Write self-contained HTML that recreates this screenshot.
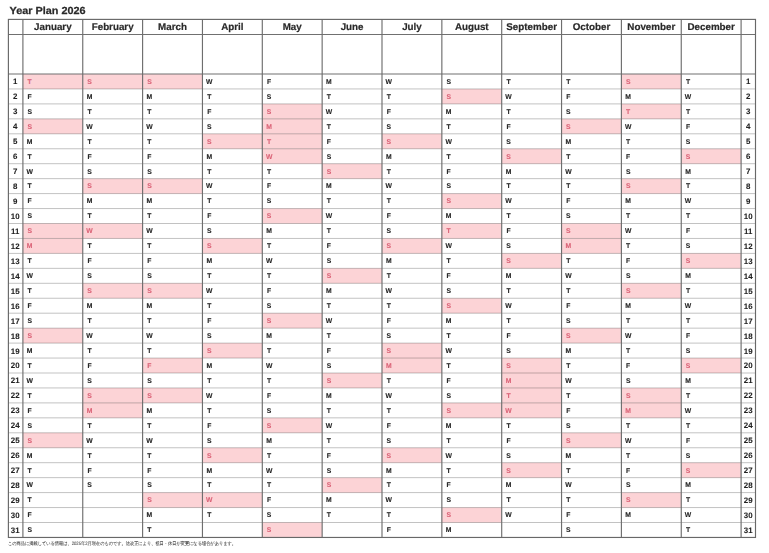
<!DOCTYPE html>
<html><head><meta charset="utf-8"><style>
html,body{margin:0;padding:0;background:#fff;width:769px;height:553px;overflow:hidden}
svg{display:block}
.wrap{filter:blur(0.3px)}
text{text-rendering:geometricPrecision;font-family:"Liberation Sans",sans-serif;font-weight:bold}
.d{font-size:6.8px;text-anchor:middle;stroke-width:0.1px}
.n{font-size:7.9px;text-anchor:middle;fill:#222;stroke:#222;stroke-width:0.08px}
.m{font-size:9.8px;text-anchor:middle;fill:#2a2a2a;stroke:#2a2a2a;stroke-width:0.2px}
.t{font-size:10.3px;fill:#2a2a2a;stroke:#2a2a2a;stroke-width:0.25px}
.f{font-size:4.8px;font-weight:normal;fill:#4a4a4a;stroke:#4a4a4a;stroke-width:0.08px}
</style></head><body>
<div class="wrap"><svg width="769" height="553" viewBox="0 0 769 553">
<rect x="22.90" y="74.00" width="59.850" height="14.950" fill="#fcd3d6"/>
<rect x="22.90" y="118.85" width="59.850" height="14.950" fill="#fcd3d6"/>
<rect x="22.90" y="223.50" width="59.850" height="14.950" fill="#fcd3d6"/>
<rect x="22.90" y="238.45" width="59.850" height="14.950" fill="#fcd3d6"/>
<rect x="22.90" y="328.15" width="59.850" height="14.950" fill="#fcd3d6"/>
<rect x="22.90" y="432.80" width="59.850" height="14.950" fill="#fcd3d6"/>
<rect x="82.75" y="74.00" width="59.850" height="14.950" fill="#fcd3d6"/>
<rect x="82.75" y="178.65" width="59.850" height="14.950" fill="#fcd3d6"/>
<rect x="82.75" y="223.50" width="59.850" height="14.950" fill="#fcd3d6"/>
<rect x="82.75" y="283.30" width="59.850" height="14.950" fill="#fcd3d6"/>
<rect x="82.75" y="387.95" width="59.850" height="14.950" fill="#fcd3d6"/>
<rect x="82.75" y="402.90" width="59.850" height="14.950" fill="#fcd3d6"/>
<rect x="142.60" y="74.00" width="59.850" height="14.950" fill="#fcd3d6"/>
<rect x="142.60" y="178.65" width="59.850" height="14.950" fill="#fcd3d6"/>
<rect x="142.60" y="283.30" width="59.850" height="14.950" fill="#fcd3d6"/>
<rect x="142.60" y="358.05" width="59.850" height="14.950" fill="#fcd3d6"/>
<rect x="142.60" y="387.95" width="59.850" height="14.950" fill="#fcd3d6"/>
<rect x="142.60" y="492.60" width="59.850" height="14.950" fill="#fcd3d6"/>
<rect x="202.45" y="133.80" width="59.850" height="14.950" fill="#fcd3d6"/>
<rect x="202.45" y="238.45" width="59.850" height="14.950" fill="#fcd3d6"/>
<rect x="202.45" y="343.10" width="59.850" height="14.950" fill="#fcd3d6"/>
<rect x="202.45" y="447.75" width="59.850" height="14.950" fill="#fcd3d6"/>
<rect x="202.45" y="492.60" width="59.850" height="14.950" fill="#fcd3d6"/>
<rect x="262.30" y="103.90" width="59.850" height="14.950" fill="#fcd3d6"/>
<rect x="262.30" y="118.85" width="59.850" height="14.950" fill="#fcd3d6"/>
<rect x="262.30" y="133.80" width="59.850" height="14.950" fill="#fcd3d6"/>
<rect x="262.30" y="148.75" width="59.850" height="14.950" fill="#fcd3d6"/>
<rect x="262.30" y="208.55" width="59.850" height="14.950" fill="#fcd3d6"/>
<rect x="262.30" y="313.20" width="59.850" height="14.950" fill="#fcd3d6"/>
<rect x="262.30" y="417.85" width="59.850" height="14.950" fill="#fcd3d6"/>
<rect x="262.30" y="522.50" width="59.850" height="14.950" fill="#fcd3d6"/>
<rect x="322.15" y="163.70" width="59.850" height="14.950" fill="#fcd3d6"/>
<rect x="322.15" y="268.35" width="59.850" height="14.950" fill="#fcd3d6"/>
<rect x="322.15" y="373.00" width="59.850" height="14.950" fill="#fcd3d6"/>
<rect x="322.15" y="477.65" width="59.850" height="14.950" fill="#fcd3d6"/>
<rect x="382.00" y="133.80" width="59.850" height="14.950" fill="#fcd3d6"/>
<rect x="382.00" y="238.45" width="59.850" height="14.950" fill="#fcd3d6"/>
<rect x="382.00" y="343.10" width="59.850" height="14.950" fill="#fcd3d6"/>
<rect x="382.00" y="358.05" width="59.850" height="14.950" fill="#fcd3d6"/>
<rect x="382.00" y="447.75" width="59.850" height="14.950" fill="#fcd3d6"/>
<rect x="441.85" y="88.95" width="59.850" height="14.950" fill="#fcd3d6"/>
<rect x="441.85" y="193.60" width="59.850" height="14.950" fill="#fcd3d6"/>
<rect x="441.85" y="223.50" width="59.850" height="14.950" fill="#fcd3d6"/>
<rect x="441.85" y="298.25" width="59.850" height="14.950" fill="#fcd3d6"/>
<rect x="441.85" y="402.90" width="59.850" height="14.950" fill="#fcd3d6"/>
<rect x="441.85" y="507.55" width="59.850" height="14.950" fill="#fcd3d6"/>
<rect x="501.70" y="148.75" width="59.850" height="14.950" fill="#fcd3d6"/>
<rect x="501.70" y="253.40" width="59.850" height="14.950" fill="#fcd3d6"/>
<rect x="501.70" y="358.05" width="59.850" height="14.950" fill="#fcd3d6"/>
<rect x="501.70" y="373.00" width="59.850" height="14.950" fill="#fcd3d6"/>
<rect x="501.70" y="387.95" width="59.850" height="14.950" fill="#fcd3d6"/>
<rect x="501.70" y="402.90" width="59.850" height="14.950" fill="#fcd3d6"/>
<rect x="501.70" y="462.70" width="59.850" height="14.950" fill="#fcd3d6"/>
<rect x="561.55" y="118.85" width="59.850" height="14.950" fill="#fcd3d6"/>
<rect x="561.55" y="223.50" width="59.850" height="14.950" fill="#fcd3d6"/>
<rect x="561.55" y="238.45" width="59.850" height="14.950" fill="#fcd3d6"/>
<rect x="561.55" y="328.15" width="59.850" height="14.950" fill="#fcd3d6"/>
<rect x="561.55" y="432.80" width="59.850" height="14.950" fill="#fcd3d6"/>
<rect x="621.40" y="74.00" width="59.850" height="14.950" fill="#fcd3d6"/>
<rect x="621.40" y="103.90" width="59.850" height="14.950" fill="#fcd3d6"/>
<rect x="621.40" y="178.65" width="59.850" height="14.950" fill="#fcd3d6"/>
<rect x="621.40" y="283.30" width="59.850" height="14.950" fill="#fcd3d6"/>
<rect x="621.40" y="387.95" width="59.850" height="14.950" fill="#fcd3d6"/>
<rect x="621.40" y="402.90" width="59.850" height="14.950" fill="#fcd3d6"/>
<rect x="621.40" y="492.60" width="59.850" height="14.950" fill="#fcd3d6"/>
<rect x="681.25" y="148.75" width="59.850" height="14.950" fill="#fcd3d6"/>
<rect x="681.25" y="253.40" width="59.850" height="14.950" fill="#fcd3d6"/>
<rect x="681.25" y="358.05" width="59.850" height="14.950" fill="#fcd3d6"/>
<rect x="681.25" y="462.70" width="59.850" height="14.950" fill="#fcd3d6"/>
<line x1="8.40" y1="88.95" x2="755.50" y2="88.95" stroke="#000" stroke-opacity="0.27" stroke-width="0.9"/>
<line x1="8.40" y1="103.90" x2="755.50" y2="103.90" stroke="#000" stroke-opacity="0.27" stroke-width="0.9"/>
<line x1="8.40" y1="118.85" x2="755.50" y2="118.85" stroke="#000" stroke-opacity="0.27" stroke-width="0.9"/>
<line x1="8.40" y1="133.80" x2="755.50" y2="133.80" stroke="#000" stroke-opacity="0.27" stroke-width="0.9"/>
<line x1="8.40" y1="148.75" x2="755.50" y2="148.75" stroke="#000" stroke-opacity="0.27" stroke-width="0.9"/>
<line x1="8.40" y1="163.70" x2="755.50" y2="163.70" stroke="#000" stroke-opacity="0.27" stroke-width="0.9"/>
<line x1="8.40" y1="178.65" x2="755.50" y2="178.65" stroke="#000" stroke-opacity="0.27" stroke-width="0.9"/>
<line x1="8.40" y1="193.60" x2="755.50" y2="193.60" stroke="#000" stroke-opacity="0.27" stroke-width="0.9"/>
<line x1="8.40" y1="208.55" x2="755.50" y2="208.55" stroke="#000" stroke-opacity="0.27" stroke-width="0.9"/>
<line x1="8.40" y1="223.50" x2="755.50" y2="223.50" stroke="#000" stroke-opacity="0.27" stroke-width="0.9"/>
<line x1="8.40" y1="238.45" x2="755.50" y2="238.45" stroke="#000" stroke-opacity="0.27" stroke-width="0.9"/>
<line x1="8.40" y1="253.40" x2="755.50" y2="253.40" stroke="#000" stroke-opacity="0.27" stroke-width="0.9"/>
<line x1="8.40" y1="268.35" x2="755.50" y2="268.35" stroke="#000" stroke-opacity="0.27" stroke-width="0.9"/>
<line x1="8.40" y1="283.30" x2="755.50" y2="283.30" stroke="#000" stroke-opacity="0.27" stroke-width="0.9"/>
<line x1="8.40" y1="298.25" x2="755.50" y2="298.25" stroke="#000" stroke-opacity="0.27" stroke-width="0.9"/>
<line x1="8.40" y1="313.20" x2="755.50" y2="313.20" stroke="#000" stroke-opacity="0.27" stroke-width="0.9"/>
<line x1="8.40" y1="328.15" x2="755.50" y2="328.15" stroke="#000" stroke-opacity="0.27" stroke-width="0.9"/>
<line x1="8.40" y1="343.10" x2="755.50" y2="343.10" stroke="#000" stroke-opacity="0.27" stroke-width="0.9"/>
<line x1="8.40" y1="358.05" x2="755.50" y2="358.05" stroke="#000" stroke-opacity="0.27" stroke-width="0.9"/>
<line x1="8.40" y1="373.00" x2="755.50" y2="373.00" stroke="#000" stroke-opacity="0.27" stroke-width="0.9"/>
<line x1="8.40" y1="387.95" x2="755.50" y2="387.95" stroke="#000" stroke-opacity="0.27" stroke-width="0.9"/>
<line x1="8.40" y1="402.90" x2="755.50" y2="402.90" stroke="#000" stroke-opacity="0.27" stroke-width="0.9"/>
<line x1="8.40" y1="417.85" x2="755.50" y2="417.85" stroke="#000" stroke-opacity="0.27" stroke-width="0.9"/>
<line x1="8.40" y1="432.80" x2="755.50" y2="432.80" stroke="#000" stroke-opacity="0.27" stroke-width="0.9"/>
<line x1="8.40" y1="447.75" x2="755.50" y2="447.75" stroke="#000" stroke-opacity="0.27" stroke-width="0.9"/>
<line x1="8.40" y1="462.70" x2="755.50" y2="462.70" stroke="#000" stroke-opacity="0.27" stroke-width="0.9"/>
<line x1="8.40" y1="477.65" x2="755.50" y2="477.65" stroke="#000" stroke-opacity="0.27" stroke-width="0.9"/>
<line x1="8.40" y1="492.60" x2="755.50" y2="492.60" stroke="#000" stroke-opacity="0.27" stroke-width="0.9"/>
<line x1="8.40" y1="507.55" x2="755.50" y2="507.55" stroke="#000" stroke-opacity="0.27" stroke-width="0.9"/>
<line x1="8.40" y1="522.50" x2="755.50" y2="522.50" stroke="#000" stroke-opacity="0.27" stroke-width="0.9"/>
<line x1="8.40" y1="34.50" x2="755.50" y2="34.50" stroke="#707070" stroke-width="1.1"/>
<line x1="8.40" y1="74.00" x2="755.50" y2="74.00" stroke="#707070" stroke-width="1.1"/>
<line x1="22.90" y1="19.40" x2="22.90" y2="537.45" stroke="#6e6e6e" stroke-width="1.15"/>
<line x1="82.75" y1="19.40" x2="82.75" y2="537.45" stroke="#6e6e6e" stroke-width="1.15"/>
<line x1="142.60" y1="19.40" x2="142.60" y2="537.45" stroke="#6e6e6e" stroke-width="1.15"/>
<line x1="202.45" y1="19.40" x2="202.45" y2="537.45" stroke="#6e6e6e" stroke-width="1.15"/>
<line x1="262.30" y1="19.40" x2="262.30" y2="537.45" stroke="#6e6e6e" stroke-width="1.15"/>
<line x1="322.15" y1="19.40" x2="322.15" y2="537.45" stroke="#6e6e6e" stroke-width="1.15"/>
<line x1="382.00" y1="19.40" x2="382.00" y2="537.45" stroke="#6e6e6e" stroke-width="1.15"/>
<line x1="441.85" y1="19.40" x2="441.85" y2="537.45" stroke="#6e6e6e" stroke-width="1.15"/>
<line x1="501.70" y1="19.40" x2="501.70" y2="537.45" stroke="#6e6e6e" stroke-width="1.15"/>
<line x1="561.55" y1="19.40" x2="561.55" y2="537.45" stroke="#6e6e6e" stroke-width="1.15"/>
<line x1="621.40" y1="19.40" x2="621.40" y2="537.45" stroke="#6e6e6e" stroke-width="1.15"/>
<line x1="681.25" y1="19.40" x2="681.25" y2="537.45" stroke="#6e6e6e" stroke-width="1.15"/>
<line x1="741.10" y1="19.40" x2="741.10" y2="537.45" stroke="#6e6e6e" stroke-width="1.15"/>
<rect x="8.40" y="19.40" width="747.10" height="518.05" fill="none" stroke="#686868" stroke-width="1.15"/>
<text class="d" transform="translate(29.70 83.80) scale(1.0 1)" fill="#da6276" stroke="#da6276">T</text>
<text class="d" transform="translate(29.70 98.75) scale(1.0 1)" fill="#222" stroke="#222">F</text>
<text class="d" transform="translate(29.70 113.70) scale(1.0 1)" fill="#222" stroke="#222">S</text>
<text class="d" transform="translate(29.70 128.65) scale(1.0 1)" fill="#da6276" stroke="#da6276">S</text>
<text class="d" transform="translate(29.70 143.60) scale(1.0 1)" fill="#222" stroke="#222">M</text>
<text class="d" transform="translate(29.70 158.55) scale(1.0 1)" fill="#222" stroke="#222">T</text>
<text class="d" transform="translate(29.70 173.50) scale(1.0 1)" fill="#222" stroke="#222">W</text>
<text class="d" transform="translate(29.70 188.45) scale(1.0 1)" fill="#222" stroke="#222">T</text>
<text class="d" transform="translate(29.70 203.40) scale(1.0 1)" fill="#222" stroke="#222">F</text>
<text class="d" transform="translate(29.70 218.35) scale(1.0 1)" fill="#222" stroke="#222">S</text>
<text class="d" transform="translate(29.70 233.30) scale(1.0 1)" fill="#da6276" stroke="#da6276">S</text>
<text class="d" transform="translate(29.70 248.25) scale(1.0 1)" fill="#da6276" stroke="#da6276">M</text>
<text class="d" transform="translate(29.70 263.20) scale(1.0 1)" fill="#222" stroke="#222">T</text>
<text class="d" transform="translate(29.70 278.15) scale(1.0 1)" fill="#222" stroke="#222">W</text>
<text class="d" transform="translate(29.70 293.10) scale(1.0 1)" fill="#222" stroke="#222">T</text>
<text class="d" transform="translate(29.70 308.05) scale(1.0 1)" fill="#222" stroke="#222">F</text>
<text class="d" transform="translate(29.70 323.00) scale(1.0 1)" fill="#222" stroke="#222">S</text>
<text class="d" transform="translate(29.70 337.95) scale(1.0 1)" fill="#da6276" stroke="#da6276">S</text>
<text class="d" transform="translate(29.70 352.90) scale(1.0 1)" fill="#222" stroke="#222">M</text>
<text class="d" transform="translate(29.70 367.85) scale(1.0 1)" fill="#222" stroke="#222">T</text>
<text class="d" transform="translate(29.70 382.80) scale(1.0 1)" fill="#222" stroke="#222">W</text>
<text class="d" transform="translate(29.70 397.75) scale(1.0 1)" fill="#222" stroke="#222">T</text>
<text class="d" transform="translate(29.70 412.70) scale(1.0 1)" fill="#222" stroke="#222">F</text>
<text class="d" transform="translate(29.70 427.65) scale(1.0 1)" fill="#222" stroke="#222">S</text>
<text class="d" transform="translate(29.70 442.60) scale(1.0 1)" fill="#da6276" stroke="#da6276">S</text>
<text class="d" transform="translate(29.70 457.55) scale(1.0 1)" fill="#222" stroke="#222">M</text>
<text class="d" transform="translate(29.70 472.50) scale(1.0 1)" fill="#222" stroke="#222">T</text>
<text class="d" transform="translate(29.70 487.45) scale(1.0 1)" fill="#222" stroke="#222">W</text>
<text class="d" transform="translate(29.70 502.40) scale(1.0 1)" fill="#222" stroke="#222">T</text>
<text class="d" transform="translate(29.70 517.35) scale(1.0 1)" fill="#222" stroke="#222">F</text>
<text class="d" transform="translate(29.70 532.30) scale(1.0 1)" fill="#222" stroke="#222">S</text>
<text class="d" transform="translate(89.55 83.80) scale(1.0 1)" fill="#da6276" stroke="#da6276">S</text>
<text class="d" transform="translate(89.55 98.75) scale(1.0 1)" fill="#222" stroke="#222">M</text>
<text class="d" transform="translate(89.55 113.70) scale(1.0 1)" fill="#222" stroke="#222">T</text>
<text class="d" transform="translate(89.55 128.65) scale(1.0 1)" fill="#222" stroke="#222">W</text>
<text class="d" transform="translate(89.55 143.60) scale(1.0 1)" fill="#222" stroke="#222">T</text>
<text class="d" transform="translate(89.55 158.55) scale(1.0 1)" fill="#222" stroke="#222">F</text>
<text class="d" transform="translate(89.55 173.50) scale(1.0 1)" fill="#222" stroke="#222">S</text>
<text class="d" transform="translate(89.55 188.45) scale(1.0 1)" fill="#da6276" stroke="#da6276">S</text>
<text class="d" transform="translate(89.55 203.40) scale(1.0 1)" fill="#222" stroke="#222">M</text>
<text class="d" transform="translate(89.55 218.35) scale(1.0 1)" fill="#222" stroke="#222">T</text>
<text class="d" transform="translate(89.55 233.30) scale(1.0 1)" fill="#da6276" stroke="#da6276">W</text>
<text class="d" transform="translate(89.55 248.25) scale(1.0 1)" fill="#222" stroke="#222">T</text>
<text class="d" transform="translate(89.55 263.20) scale(1.0 1)" fill="#222" stroke="#222">F</text>
<text class="d" transform="translate(89.55 278.15) scale(1.0 1)" fill="#222" stroke="#222">S</text>
<text class="d" transform="translate(89.55 293.10) scale(1.0 1)" fill="#da6276" stroke="#da6276">S</text>
<text class="d" transform="translate(89.55 308.05) scale(1.0 1)" fill="#222" stroke="#222">M</text>
<text class="d" transform="translate(89.55 323.00) scale(1.0 1)" fill="#222" stroke="#222">T</text>
<text class="d" transform="translate(89.55 337.95) scale(1.0 1)" fill="#222" stroke="#222">W</text>
<text class="d" transform="translate(89.55 352.90) scale(1.0 1)" fill="#222" stroke="#222">T</text>
<text class="d" transform="translate(89.55 367.85) scale(1.0 1)" fill="#222" stroke="#222">F</text>
<text class="d" transform="translate(89.55 382.80) scale(1.0 1)" fill="#222" stroke="#222">S</text>
<text class="d" transform="translate(89.55 397.75) scale(1.0 1)" fill="#da6276" stroke="#da6276">S</text>
<text class="d" transform="translate(89.55 412.70) scale(1.0 1)" fill="#da6276" stroke="#da6276">M</text>
<text class="d" transform="translate(89.55 427.65) scale(1.0 1)" fill="#222" stroke="#222">T</text>
<text class="d" transform="translate(89.55 442.60) scale(1.0 1)" fill="#222" stroke="#222">W</text>
<text class="d" transform="translate(89.55 457.55) scale(1.0 1)" fill="#222" stroke="#222">T</text>
<text class="d" transform="translate(89.55 472.50) scale(1.0 1)" fill="#222" stroke="#222">F</text>
<text class="d" transform="translate(89.55 487.45) scale(1.0 1)" fill="#222" stroke="#222">S</text>
<text class="d" transform="translate(149.40 83.80) scale(1.0 1)" fill="#da6276" stroke="#da6276">S</text>
<text class="d" transform="translate(149.40 98.75) scale(1.0 1)" fill="#222" stroke="#222">M</text>
<text class="d" transform="translate(149.40 113.70) scale(1.0 1)" fill="#222" stroke="#222">T</text>
<text class="d" transform="translate(149.40 128.65) scale(1.0 1)" fill="#222" stroke="#222">W</text>
<text class="d" transform="translate(149.40 143.60) scale(1.0 1)" fill="#222" stroke="#222">T</text>
<text class="d" transform="translate(149.40 158.55) scale(1.0 1)" fill="#222" stroke="#222">F</text>
<text class="d" transform="translate(149.40 173.50) scale(1.0 1)" fill="#222" stroke="#222">S</text>
<text class="d" transform="translate(149.40 188.45) scale(1.0 1)" fill="#da6276" stroke="#da6276">S</text>
<text class="d" transform="translate(149.40 203.40) scale(1.0 1)" fill="#222" stroke="#222">M</text>
<text class="d" transform="translate(149.40 218.35) scale(1.0 1)" fill="#222" stroke="#222">T</text>
<text class="d" transform="translate(149.40 233.30) scale(1.0 1)" fill="#222" stroke="#222">W</text>
<text class="d" transform="translate(149.40 248.25) scale(1.0 1)" fill="#222" stroke="#222">T</text>
<text class="d" transform="translate(149.40 263.20) scale(1.0 1)" fill="#222" stroke="#222">F</text>
<text class="d" transform="translate(149.40 278.15) scale(1.0 1)" fill="#222" stroke="#222">S</text>
<text class="d" transform="translate(149.40 293.10) scale(1.0 1)" fill="#da6276" stroke="#da6276">S</text>
<text class="d" transform="translate(149.40 308.05) scale(1.0 1)" fill="#222" stroke="#222">M</text>
<text class="d" transform="translate(149.40 323.00) scale(1.0 1)" fill="#222" stroke="#222">T</text>
<text class="d" transform="translate(149.40 337.95) scale(1.0 1)" fill="#222" stroke="#222">W</text>
<text class="d" transform="translate(149.40 352.90) scale(1.0 1)" fill="#222" stroke="#222">T</text>
<text class="d" transform="translate(149.40 367.85) scale(1.0 1)" fill="#da6276" stroke="#da6276">F</text>
<text class="d" transform="translate(149.40 382.80) scale(1.0 1)" fill="#222" stroke="#222">S</text>
<text class="d" transform="translate(149.40 397.75) scale(1.0 1)" fill="#da6276" stroke="#da6276">S</text>
<text class="d" transform="translate(149.40 412.70) scale(1.0 1)" fill="#222" stroke="#222">M</text>
<text class="d" transform="translate(149.40 427.65) scale(1.0 1)" fill="#222" stroke="#222">T</text>
<text class="d" transform="translate(149.40 442.60) scale(1.0 1)" fill="#222" stroke="#222">W</text>
<text class="d" transform="translate(149.40 457.55) scale(1.0 1)" fill="#222" stroke="#222">T</text>
<text class="d" transform="translate(149.40 472.50) scale(1.0 1)" fill="#222" stroke="#222">F</text>
<text class="d" transform="translate(149.40 487.45) scale(1.0 1)" fill="#222" stroke="#222">S</text>
<text class="d" transform="translate(149.40 502.40) scale(1.0 1)" fill="#da6276" stroke="#da6276">S</text>
<text class="d" transform="translate(149.40 517.35) scale(1.0 1)" fill="#222" stroke="#222">M</text>
<text class="d" transform="translate(149.40 532.30) scale(1.0 1)" fill="#222" stroke="#222">T</text>
<text class="d" transform="translate(209.25 83.80) scale(1.0 1)" fill="#222" stroke="#222">W</text>
<text class="d" transform="translate(209.25 98.75) scale(1.0 1)" fill="#222" stroke="#222">T</text>
<text class="d" transform="translate(209.25 113.70) scale(1.0 1)" fill="#222" stroke="#222">F</text>
<text class="d" transform="translate(209.25 128.65) scale(1.0 1)" fill="#222" stroke="#222">S</text>
<text class="d" transform="translate(209.25 143.60) scale(1.0 1)" fill="#da6276" stroke="#da6276">S</text>
<text class="d" transform="translate(209.25 158.55) scale(1.0 1)" fill="#222" stroke="#222">M</text>
<text class="d" transform="translate(209.25 173.50) scale(1.0 1)" fill="#222" stroke="#222">T</text>
<text class="d" transform="translate(209.25 188.45) scale(1.0 1)" fill="#222" stroke="#222">W</text>
<text class="d" transform="translate(209.25 203.40) scale(1.0 1)" fill="#222" stroke="#222">T</text>
<text class="d" transform="translate(209.25 218.35) scale(1.0 1)" fill="#222" stroke="#222">F</text>
<text class="d" transform="translate(209.25 233.30) scale(1.0 1)" fill="#222" stroke="#222">S</text>
<text class="d" transform="translate(209.25 248.25) scale(1.0 1)" fill="#da6276" stroke="#da6276">S</text>
<text class="d" transform="translate(209.25 263.20) scale(1.0 1)" fill="#222" stroke="#222">M</text>
<text class="d" transform="translate(209.25 278.15) scale(1.0 1)" fill="#222" stroke="#222">T</text>
<text class="d" transform="translate(209.25 293.10) scale(1.0 1)" fill="#222" stroke="#222">W</text>
<text class="d" transform="translate(209.25 308.05) scale(1.0 1)" fill="#222" stroke="#222">T</text>
<text class="d" transform="translate(209.25 323.00) scale(1.0 1)" fill="#222" stroke="#222">F</text>
<text class="d" transform="translate(209.25 337.95) scale(1.0 1)" fill="#222" stroke="#222">S</text>
<text class="d" transform="translate(209.25 352.90) scale(1.0 1)" fill="#da6276" stroke="#da6276">S</text>
<text class="d" transform="translate(209.25 367.85) scale(1.0 1)" fill="#222" stroke="#222">M</text>
<text class="d" transform="translate(209.25 382.80) scale(1.0 1)" fill="#222" stroke="#222">T</text>
<text class="d" transform="translate(209.25 397.75) scale(1.0 1)" fill="#222" stroke="#222">W</text>
<text class="d" transform="translate(209.25 412.70) scale(1.0 1)" fill="#222" stroke="#222">T</text>
<text class="d" transform="translate(209.25 427.65) scale(1.0 1)" fill="#222" stroke="#222">F</text>
<text class="d" transform="translate(209.25 442.60) scale(1.0 1)" fill="#222" stroke="#222">S</text>
<text class="d" transform="translate(209.25 457.55) scale(1.0 1)" fill="#da6276" stroke="#da6276">S</text>
<text class="d" transform="translate(209.25 472.50) scale(1.0 1)" fill="#222" stroke="#222">M</text>
<text class="d" transform="translate(209.25 487.45) scale(1.0 1)" fill="#222" stroke="#222">T</text>
<text class="d" transform="translate(209.25 502.40) scale(1.0 1)" fill="#da6276" stroke="#da6276">W</text>
<text class="d" transform="translate(209.25 517.35) scale(1.0 1)" fill="#222" stroke="#222">T</text>
<text class="d" transform="translate(269.10 83.80) scale(1.0 1)" fill="#222" stroke="#222">F</text>
<text class="d" transform="translate(269.10 98.75) scale(1.0 1)" fill="#222" stroke="#222">S</text>
<text class="d" transform="translate(269.10 113.70) scale(1.0 1)" fill="#da6276" stroke="#da6276">S</text>
<text class="d" transform="translate(269.10 128.65) scale(1.0 1)" fill="#da6276" stroke="#da6276">M</text>
<text class="d" transform="translate(269.10 143.60) scale(1.0 1)" fill="#da6276" stroke="#da6276">T</text>
<text class="d" transform="translate(269.10 158.55) scale(1.0 1)" fill="#da6276" stroke="#da6276">W</text>
<text class="d" transform="translate(269.10 173.50) scale(1.0 1)" fill="#222" stroke="#222">T</text>
<text class="d" transform="translate(269.10 188.45) scale(1.0 1)" fill="#222" stroke="#222">F</text>
<text class="d" transform="translate(269.10 203.40) scale(1.0 1)" fill="#222" stroke="#222">S</text>
<text class="d" transform="translate(269.10 218.35) scale(1.0 1)" fill="#da6276" stroke="#da6276">S</text>
<text class="d" transform="translate(269.10 233.30) scale(1.0 1)" fill="#222" stroke="#222">M</text>
<text class="d" transform="translate(269.10 248.25) scale(1.0 1)" fill="#222" stroke="#222">T</text>
<text class="d" transform="translate(269.10 263.20) scale(1.0 1)" fill="#222" stroke="#222">W</text>
<text class="d" transform="translate(269.10 278.15) scale(1.0 1)" fill="#222" stroke="#222">T</text>
<text class="d" transform="translate(269.10 293.10) scale(1.0 1)" fill="#222" stroke="#222">F</text>
<text class="d" transform="translate(269.10 308.05) scale(1.0 1)" fill="#222" stroke="#222">S</text>
<text class="d" transform="translate(269.10 323.00) scale(1.0 1)" fill="#da6276" stroke="#da6276">S</text>
<text class="d" transform="translate(269.10 337.95) scale(1.0 1)" fill="#222" stroke="#222">M</text>
<text class="d" transform="translate(269.10 352.90) scale(1.0 1)" fill="#222" stroke="#222">T</text>
<text class="d" transform="translate(269.10 367.85) scale(1.0 1)" fill="#222" stroke="#222">W</text>
<text class="d" transform="translate(269.10 382.80) scale(1.0 1)" fill="#222" stroke="#222">T</text>
<text class="d" transform="translate(269.10 397.75) scale(1.0 1)" fill="#222" stroke="#222">F</text>
<text class="d" transform="translate(269.10 412.70) scale(1.0 1)" fill="#222" stroke="#222">S</text>
<text class="d" transform="translate(269.10 427.65) scale(1.0 1)" fill="#da6276" stroke="#da6276">S</text>
<text class="d" transform="translate(269.10 442.60) scale(1.0 1)" fill="#222" stroke="#222">M</text>
<text class="d" transform="translate(269.10 457.55) scale(1.0 1)" fill="#222" stroke="#222">T</text>
<text class="d" transform="translate(269.10 472.50) scale(1.0 1)" fill="#222" stroke="#222">W</text>
<text class="d" transform="translate(269.10 487.45) scale(1.0 1)" fill="#222" stroke="#222">T</text>
<text class="d" transform="translate(269.10 502.40) scale(1.0 1)" fill="#222" stroke="#222">F</text>
<text class="d" transform="translate(269.10 517.35) scale(1.0 1)" fill="#222" stroke="#222">S</text>
<text class="d" transform="translate(269.10 532.30) scale(1.0 1)" fill="#da6276" stroke="#da6276">S</text>
<text class="d" transform="translate(328.95 83.80) scale(1.0 1)" fill="#222" stroke="#222">M</text>
<text class="d" transform="translate(328.95 98.75) scale(1.0 1)" fill="#222" stroke="#222">T</text>
<text class="d" transform="translate(328.95 113.70) scale(1.0 1)" fill="#222" stroke="#222">W</text>
<text class="d" transform="translate(328.95 128.65) scale(1.0 1)" fill="#222" stroke="#222">T</text>
<text class="d" transform="translate(328.95 143.60) scale(1.0 1)" fill="#222" stroke="#222">F</text>
<text class="d" transform="translate(328.95 158.55) scale(1.0 1)" fill="#222" stroke="#222">S</text>
<text class="d" transform="translate(328.95 173.50) scale(1.0 1)" fill="#da6276" stroke="#da6276">S</text>
<text class="d" transform="translate(328.95 188.45) scale(1.0 1)" fill="#222" stroke="#222">M</text>
<text class="d" transform="translate(328.95 203.40) scale(1.0 1)" fill="#222" stroke="#222">T</text>
<text class="d" transform="translate(328.95 218.35) scale(1.0 1)" fill="#222" stroke="#222">W</text>
<text class="d" transform="translate(328.95 233.30) scale(1.0 1)" fill="#222" stroke="#222">T</text>
<text class="d" transform="translate(328.95 248.25) scale(1.0 1)" fill="#222" stroke="#222">F</text>
<text class="d" transform="translate(328.95 263.20) scale(1.0 1)" fill="#222" stroke="#222">S</text>
<text class="d" transform="translate(328.95 278.15) scale(1.0 1)" fill="#da6276" stroke="#da6276">S</text>
<text class="d" transform="translate(328.95 293.10) scale(1.0 1)" fill="#222" stroke="#222">M</text>
<text class="d" transform="translate(328.95 308.05) scale(1.0 1)" fill="#222" stroke="#222">T</text>
<text class="d" transform="translate(328.95 323.00) scale(1.0 1)" fill="#222" stroke="#222">W</text>
<text class="d" transform="translate(328.95 337.95) scale(1.0 1)" fill="#222" stroke="#222">T</text>
<text class="d" transform="translate(328.95 352.90) scale(1.0 1)" fill="#222" stroke="#222">F</text>
<text class="d" transform="translate(328.95 367.85) scale(1.0 1)" fill="#222" stroke="#222">S</text>
<text class="d" transform="translate(328.95 382.80) scale(1.0 1)" fill="#da6276" stroke="#da6276">S</text>
<text class="d" transform="translate(328.95 397.75) scale(1.0 1)" fill="#222" stroke="#222">M</text>
<text class="d" transform="translate(328.95 412.70) scale(1.0 1)" fill="#222" stroke="#222">T</text>
<text class="d" transform="translate(328.95 427.65) scale(1.0 1)" fill="#222" stroke="#222">W</text>
<text class="d" transform="translate(328.95 442.60) scale(1.0 1)" fill="#222" stroke="#222">T</text>
<text class="d" transform="translate(328.95 457.55) scale(1.0 1)" fill="#222" stroke="#222">F</text>
<text class="d" transform="translate(328.95 472.50) scale(1.0 1)" fill="#222" stroke="#222">S</text>
<text class="d" transform="translate(328.95 487.45) scale(1.0 1)" fill="#da6276" stroke="#da6276">S</text>
<text class="d" transform="translate(328.95 502.40) scale(1.0 1)" fill="#222" stroke="#222">M</text>
<text class="d" transform="translate(328.95 517.35) scale(1.0 1)" fill="#222" stroke="#222">T</text>
<text class="d" transform="translate(388.80 83.80) scale(1.0 1)" fill="#222" stroke="#222">W</text>
<text class="d" transform="translate(388.80 98.75) scale(1.0 1)" fill="#222" stroke="#222">T</text>
<text class="d" transform="translate(388.80 113.70) scale(1.0 1)" fill="#222" stroke="#222">F</text>
<text class="d" transform="translate(388.80 128.65) scale(1.0 1)" fill="#222" stroke="#222">S</text>
<text class="d" transform="translate(388.80 143.60) scale(1.0 1)" fill="#da6276" stroke="#da6276">S</text>
<text class="d" transform="translate(388.80 158.55) scale(1.0 1)" fill="#222" stroke="#222">M</text>
<text class="d" transform="translate(388.80 173.50) scale(1.0 1)" fill="#222" stroke="#222">T</text>
<text class="d" transform="translate(388.80 188.45) scale(1.0 1)" fill="#222" stroke="#222">W</text>
<text class="d" transform="translate(388.80 203.40) scale(1.0 1)" fill="#222" stroke="#222">T</text>
<text class="d" transform="translate(388.80 218.35) scale(1.0 1)" fill="#222" stroke="#222">F</text>
<text class="d" transform="translate(388.80 233.30) scale(1.0 1)" fill="#222" stroke="#222">S</text>
<text class="d" transform="translate(388.80 248.25) scale(1.0 1)" fill="#da6276" stroke="#da6276">S</text>
<text class="d" transform="translate(388.80 263.20) scale(1.0 1)" fill="#222" stroke="#222">M</text>
<text class="d" transform="translate(388.80 278.15) scale(1.0 1)" fill="#222" stroke="#222">T</text>
<text class="d" transform="translate(388.80 293.10) scale(1.0 1)" fill="#222" stroke="#222">W</text>
<text class="d" transform="translate(388.80 308.05) scale(1.0 1)" fill="#222" stroke="#222">T</text>
<text class="d" transform="translate(388.80 323.00) scale(1.0 1)" fill="#222" stroke="#222">F</text>
<text class="d" transform="translate(388.80 337.95) scale(1.0 1)" fill="#222" stroke="#222">S</text>
<text class="d" transform="translate(388.80 352.90) scale(1.0 1)" fill="#da6276" stroke="#da6276">S</text>
<text class="d" transform="translate(388.80 367.85) scale(1.0 1)" fill="#da6276" stroke="#da6276">M</text>
<text class="d" transform="translate(388.80 382.80) scale(1.0 1)" fill="#222" stroke="#222">T</text>
<text class="d" transform="translate(388.80 397.75) scale(1.0 1)" fill="#222" stroke="#222">W</text>
<text class="d" transform="translate(388.80 412.70) scale(1.0 1)" fill="#222" stroke="#222">T</text>
<text class="d" transform="translate(388.80 427.65) scale(1.0 1)" fill="#222" stroke="#222">F</text>
<text class="d" transform="translate(388.80 442.60) scale(1.0 1)" fill="#222" stroke="#222">S</text>
<text class="d" transform="translate(388.80 457.55) scale(1.0 1)" fill="#da6276" stroke="#da6276">S</text>
<text class="d" transform="translate(388.80 472.50) scale(1.0 1)" fill="#222" stroke="#222">M</text>
<text class="d" transform="translate(388.80 487.45) scale(1.0 1)" fill="#222" stroke="#222">T</text>
<text class="d" transform="translate(388.80 502.40) scale(1.0 1)" fill="#222" stroke="#222">W</text>
<text class="d" transform="translate(388.80 517.35) scale(1.0 1)" fill="#222" stroke="#222">T</text>
<text class="d" transform="translate(388.80 532.30) scale(1.0 1)" fill="#222" stroke="#222">F</text>
<text class="d" transform="translate(448.65 83.80) scale(1.0 1)" fill="#222" stroke="#222">S</text>
<text class="d" transform="translate(448.65 98.75) scale(1.0 1)" fill="#da6276" stroke="#da6276">S</text>
<text class="d" transform="translate(448.65 113.70) scale(1.0 1)" fill="#222" stroke="#222">M</text>
<text class="d" transform="translate(448.65 128.65) scale(1.0 1)" fill="#222" stroke="#222">T</text>
<text class="d" transform="translate(448.65 143.60) scale(1.0 1)" fill="#222" stroke="#222">W</text>
<text class="d" transform="translate(448.65 158.55) scale(1.0 1)" fill="#222" stroke="#222">T</text>
<text class="d" transform="translate(448.65 173.50) scale(1.0 1)" fill="#222" stroke="#222">F</text>
<text class="d" transform="translate(448.65 188.45) scale(1.0 1)" fill="#222" stroke="#222">S</text>
<text class="d" transform="translate(448.65 203.40) scale(1.0 1)" fill="#da6276" stroke="#da6276">S</text>
<text class="d" transform="translate(448.65 218.35) scale(1.0 1)" fill="#222" stroke="#222">M</text>
<text class="d" transform="translate(448.65 233.30) scale(1.0 1)" fill="#da6276" stroke="#da6276">T</text>
<text class="d" transform="translate(448.65 248.25) scale(1.0 1)" fill="#222" stroke="#222">W</text>
<text class="d" transform="translate(448.65 263.20) scale(1.0 1)" fill="#222" stroke="#222">T</text>
<text class="d" transform="translate(448.65 278.15) scale(1.0 1)" fill="#222" stroke="#222">F</text>
<text class="d" transform="translate(448.65 293.10) scale(1.0 1)" fill="#222" stroke="#222">S</text>
<text class="d" transform="translate(448.65 308.05) scale(1.0 1)" fill="#da6276" stroke="#da6276">S</text>
<text class="d" transform="translate(448.65 323.00) scale(1.0 1)" fill="#222" stroke="#222">M</text>
<text class="d" transform="translate(448.65 337.95) scale(1.0 1)" fill="#222" stroke="#222">T</text>
<text class="d" transform="translate(448.65 352.90) scale(1.0 1)" fill="#222" stroke="#222">W</text>
<text class="d" transform="translate(448.65 367.85) scale(1.0 1)" fill="#222" stroke="#222">T</text>
<text class="d" transform="translate(448.65 382.80) scale(1.0 1)" fill="#222" stroke="#222">F</text>
<text class="d" transform="translate(448.65 397.75) scale(1.0 1)" fill="#222" stroke="#222">S</text>
<text class="d" transform="translate(448.65 412.70) scale(1.0 1)" fill="#da6276" stroke="#da6276">S</text>
<text class="d" transform="translate(448.65 427.65) scale(1.0 1)" fill="#222" stroke="#222">M</text>
<text class="d" transform="translate(448.65 442.60) scale(1.0 1)" fill="#222" stroke="#222">T</text>
<text class="d" transform="translate(448.65 457.55) scale(1.0 1)" fill="#222" stroke="#222">W</text>
<text class="d" transform="translate(448.65 472.50) scale(1.0 1)" fill="#222" stroke="#222">T</text>
<text class="d" transform="translate(448.65 487.45) scale(1.0 1)" fill="#222" stroke="#222">F</text>
<text class="d" transform="translate(448.65 502.40) scale(1.0 1)" fill="#222" stroke="#222">S</text>
<text class="d" transform="translate(448.65 517.35) scale(1.0 1)" fill="#da6276" stroke="#da6276">S</text>
<text class="d" transform="translate(448.65 532.30) scale(1.0 1)" fill="#222" stroke="#222">M</text>
<text class="d" transform="translate(508.50 83.80) scale(1.0 1)" fill="#222" stroke="#222">T</text>
<text class="d" transform="translate(508.50 98.75) scale(1.0 1)" fill="#222" stroke="#222">W</text>
<text class="d" transform="translate(508.50 113.70) scale(1.0 1)" fill="#222" stroke="#222">T</text>
<text class="d" transform="translate(508.50 128.65) scale(1.0 1)" fill="#222" stroke="#222">F</text>
<text class="d" transform="translate(508.50 143.60) scale(1.0 1)" fill="#222" stroke="#222">S</text>
<text class="d" transform="translate(508.50 158.55) scale(1.0 1)" fill="#da6276" stroke="#da6276">S</text>
<text class="d" transform="translate(508.50 173.50) scale(1.0 1)" fill="#222" stroke="#222">M</text>
<text class="d" transform="translate(508.50 188.45) scale(1.0 1)" fill="#222" stroke="#222">T</text>
<text class="d" transform="translate(508.50 203.40) scale(1.0 1)" fill="#222" stroke="#222">W</text>
<text class="d" transform="translate(508.50 218.35) scale(1.0 1)" fill="#222" stroke="#222">T</text>
<text class="d" transform="translate(508.50 233.30) scale(1.0 1)" fill="#222" stroke="#222">F</text>
<text class="d" transform="translate(508.50 248.25) scale(1.0 1)" fill="#222" stroke="#222">S</text>
<text class="d" transform="translate(508.50 263.20) scale(1.0 1)" fill="#da6276" stroke="#da6276">S</text>
<text class="d" transform="translate(508.50 278.15) scale(1.0 1)" fill="#222" stroke="#222">M</text>
<text class="d" transform="translate(508.50 293.10) scale(1.0 1)" fill="#222" stroke="#222">T</text>
<text class="d" transform="translate(508.50 308.05) scale(1.0 1)" fill="#222" stroke="#222">W</text>
<text class="d" transform="translate(508.50 323.00) scale(1.0 1)" fill="#222" stroke="#222">T</text>
<text class="d" transform="translate(508.50 337.95) scale(1.0 1)" fill="#222" stroke="#222">F</text>
<text class="d" transform="translate(508.50 352.90) scale(1.0 1)" fill="#222" stroke="#222">S</text>
<text class="d" transform="translate(508.50 367.85) scale(1.0 1)" fill="#da6276" stroke="#da6276">S</text>
<text class="d" transform="translate(508.50 382.80) scale(1.0 1)" fill="#da6276" stroke="#da6276">M</text>
<text class="d" transform="translate(508.50 397.75) scale(1.0 1)" fill="#da6276" stroke="#da6276">T</text>
<text class="d" transform="translate(508.50 412.70) scale(1.0 1)" fill="#da6276" stroke="#da6276">W</text>
<text class="d" transform="translate(508.50 427.65) scale(1.0 1)" fill="#222" stroke="#222">T</text>
<text class="d" transform="translate(508.50 442.60) scale(1.0 1)" fill="#222" stroke="#222">F</text>
<text class="d" transform="translate(508.50 457.55) scale(1.0 1)" fill="#222" stroke="#222">S</text>
<text class="d" transform="translate(508.50 472.50) scale(1.0 1)" fill="#da6276" stroke="#da6276">S</text>
<text class="d" transform="translate(508.50 487.45) scale(1.0 1)" fill="#222" stroke="#222">M</text>
<text class="d" transform="translate(508.50 502.40) scale(1.0 1)" fill="#222" stroke="#222">T</text>
<text class="d" transform="translate(508.50 517.35) scale(1.0 1)" fill="#222" stroke="#222">W</text>
<text class="d" transform="translate(568.35 83.80) scale(1.0 1)" fill="#222" stroke="#222">T</text>
<text class="d" transform="translate(568.35 98.75) scale(1.0 1)" fill="#222" stroke="#222">F</text>
<text class="d" transform="translate(568.35 113.70) scale(1.0 1)" fill="#222" stroke="#222">S</text>
<text class="d" transform="translate(568.35 128.65) scale(1.0 1)" fill="#da6276" stroke="#da6276">S</text>
<text class="d" transform="translate(568.35 143.60) scale(1.0 1)" fill="#222" stroke="#222">M</text>
<text class="d" transform="translate(568.35 158.55) scale(1.0 1)" fill="#222" stroke="#222">T</text>
<text class="d" transform="translate(568.35 173.50) scale(1.0 1)" fill="#222" stroke="#222">W</text>
<text class="d" transform="translate(568.35 188.45) scale(1.0 1)" fill="#222" stroke="#222">T</text>
<text class="d" transform="translate(568.35 203.40) scale(1.0 1)" fill="#222" stroke="#222">F</text>
<text class="d" transform="translate(568.35 218.35) scale(1.0 1)" fill="#222" stroke="#222">S</text>
<text class="d" transform="translate(568.35 233.30) scale(1.0 1)" fill="#da6276" stroke="#da6276">S</text>
<text class="d" transform="translate(568.35 248.25) scale(1.0 1)" fill="#da6276" stroke="#da6276">M</text>
<text class="d" transform="translate(568.35 263.20) scale(1.0 1)" fill="#222" stroke="#222">T</text>
<text class="d" transform="translate(568.35 278.15) scale(1.0 1)" fill="#222" stroke="#222">W</text>
<text class="d" transform="translate(568.35 293.10) scale(1.0 1)" fill="#222" stroke="#222">T</text>
<text class="d" transform="translate(568.35 308.05) scale(1.0 1)" fill="#222" stroke="#222">F</text>
<text class="d" transform="translate(568.35 323.00) scale(1.0 1)" fill="#222" stroke="#222">S</text>
<text class="d" transform="translate(568.35 337.95) scale(1.0 1)" fill="#da6276" stroke="#da6276">S</text>
<text class="d" transform="translate(568.35 352.90) scale(1.0 1)" fill="#222" stroke="#222">M</text>
<text class="d" transform="translate(568.35 367.85) scale(1.0 1)" fill="#222" stroke="#222">T</text>
<text class="d" transform="translate(568.35 382.80) scale(1.0 1)" fill="#222" stroke="#222">W</text>
<text class="d" transform="translate(568.35 397.75) scale(1.0 1)" fill="#222" stroke="#222">T</text>
<text class="d" transform="translate(568.35 412.70) scale(1.0 1)" fill="#222" stroke="#222">F</text>
<text class="d" transform="translate(568.35 427.65) scale(1.0 1)" fill="#222" stroke="#222">S</text>
<text class="d" transform="translate(568.35 442.60) scale(1.0 1)" fill="#da6276" stroke="#da6276">S</text>
<text class="d" transform="translate(568.35 457.55) scale(1.0 1)" fill="#222" stroke="#222">M</text>
<text class="d" transform="translate(568.35 472.50) scale(1.0 1)" fill="#222" stroke="#222">T</text>
<text class="d" transform="translate(568.35 487.45) scale(1.0 1)" fill="#222" stroke="#222">W</text>
<text class="d" transform="translate(568.35 502.40) scale(1.0 1)" fill="#222" stroke="#222">T</text>
<text class="d" transform="translate(568.35 517.35) scale(1.0 1)" fill="#222" stroke="#222">F</text>
<text class="d" transform="translate(568.35 532.30) scale(1.0 1)" fill="#222" stroke="#222">S</text>
<text class="d" transform="translate(628.20 83.80) scale(1.0 1)" fill="#da6276" stroke="#da6276">S</text>
<text class="d" transform="translate(628.20 98.75) scale(1.0 1)" fill="#222" stroke="#222">M</text>
<text class="d" transform="translate(628.20 113.70) scale(1.0 1)" fill="#da6276" stroke="#da6276">T</text>
<text class="d" transform="translate(628.20 128.65) scale(1.0 1)" fill="#222" stroke="#222">W</text>
<text class="d" transform="translate(628.20 143.60) scale(1.0 1)" fill="#222" stroke="#222">T</text>
<text class="d" transform="translate(628.20 158.55) scale(1.0 1)" fill="#222" stroke="#222">F</text>
<text class="d" transform="translate(628.20 173.50) scale(1.0 1)" fill="#222" stroke="#222">S</text>
<text class="d" transform="translate(628.20 188.45) scale(1.0 1)" fill="#da6276" stroke="#da6276">S</text>
<text class="d" transform="translate(628.20 203.40) scale(1.0 1)" fill="#222" stroke="#222">M</text>
<text class="d" transform="translate(628.20 218.35) scale(1.0 1)" fill="#222" stroke="#222">T</text>
<text class="d" transform="translate(628.20 233.30) scale(1.0 1)" fill="#222" stroke="#222">W</text>
<text class="d" transform="translate(628.20 248.25) scale(1.0 1)" fill="#222" stroke="#222">T</text>
<text class="d" transform="translate(628.20 263.20) scale(1.0 1)" fill="#222" stroke="#222">F</text>
<text class="d" transform="translate(628.20 278.15) scale(1.0 1)" fill="#222" stroke="#222">S</text>
<text class="d" transform="translate(628.20 293.10) scale(1.0 1)" fill="#da6276" stroke="#da6276">S</text>
<text class="d" transform="translate(628.20 308.05) scale(1.0 1)" fill="#222" stroke="#222">M</text>
<text class="d" transform="translate(628.20 323.00) scale(1.0 1)" fill="#222" stroke="#222">T</text>
<text class="d" transform="translate(628.20 337.95) scale(1.0 1)" fill="#222" stroke="#222">W</text>
<text class="d" transform="translate(628.20 352.90) scale(1.0 1)" fill="#222" stroke="#222">T</text>
<text class="d" transform="translate(628.20 367.85) scale(1.0 1)" fill="#222" stroke="#222">F</text>
<text class="d" transform="translate(628.20 382.80) scale(1.0 1)" fill="#222" stroke="#222">S</text>
<text class="d" transform="translate(628.20 397.75) scale(1.0 1)" fill="#da6276" stroke="#da6276">S</text>
<text class="d" transform="translate(628.20 412.70) scale(1.0 1)" fill="#da6276" stroke="#da6276">M</text>
<text class="d" transform="translate(628.20 427.65) scale(1.0 1)" fill="#222" stroke="#222">T</text>
<text class="d" transform="translate(628.20 442.60) scale(1.0 1)" fill="#222" stroke="#222">W</text>
<text class="d" transform="translate(628.20 457.55) scale(1.0 1)" fill="#222" stroke="#222">T</text>
<text class="d" transform="translate(628.20 472.50) scale(1.0 1)" fill="#222" stroke="#222">F</text>
<text class="d" transform="translate(628.20 487.45) scale(1.0 1)" fill="#222" stroke="#222">S</text>
<text class="d" transform="translate(628.20 502.40) scale(1.0 1)" fill="#da6276" stroke="#da6276">S</text>
<text class="d" transform="translate(628.20 517.35) scale(1.0 1)" fill="#222" stroke="#222">M</text>
<text class="d" transform="translate(688.05 83.80) scale(1.0 1)" fill="#222" stroke="#222">T</text>
<text class="d" transform="translate(688.05 98.75) scale(1.0 1)" fill="#222" stroke="#222">W</text>
<text class="d" transform="translate(688.05 113.70) scale(1.0 1)" fill="#222" stroke="#222">T</text>
<text class="d" transform="translate(688.05 128.65) scale(1.0 1)" fill="#222" stroke="#222">F</text>
<text class="d" transform="translate(688.05 143.60) scale(1.0 1)" fill="#222" stroke="#222">S</text>
<text class="d" transform="translate(688.05 158.55) scale(1.0 1)" fill="#da6276" stroke="#da6276">S</text>
<text class="d" transform="translate(688.05 173.50) scale(1.0 1)" fill="#222" stroke="#222">M</text>
<text class="d" transform="translate(688.05 188.45) scale(1.0 1)" fill="#222" stroke="#222">T</text>
<text class="d" transform="translate(688.05 203.40) scale(1.0 1)" fill="#222" stroke="#222">W</text>
<text class="d" transform="translate(688.05 218.35) scale(1.0 1)" fill="#222" stroke="#222">T</text>
<text class="d" transform="translate(688.05 233.30) scale(1.0 1)" fill="#222" stroke="#222">F</text>
<text class="d" transform="translate(688.05 248.25) scale(1.0 1)" fill="#222" stroke="#222">S</text>
<text class="d" transform="translate(688.05 263.20) scale(1.0 1)" fill="#da6276" stroke="#da6276">S</text>
<text class="d" transform="translate(688.05 278.15) scale(1.0 1)" fill="#222" stroke="#222">M</text>
<text class="d" transform="translate(688.05 293.10) scale(1.0 1)" fill="#222" stroke="#222">T</text>
<text class="d" transform="translate(688.05 308.05) scale(1.0 1)" fill="#222" stroke="#222">W</text>
<text class="d" transform="translate(688.05 323.00) scale(1.0 1)" fill="#222" stroke="#222">T</text>
<text class="d" transform="translate(688.05 337.95) scale(1.0 1)" fill="#222" stroke="#222">F</text>
<text class="d" transform="translate(688.05 352.90) scale(1.0 1)" fill="#222" stroke="#222">S</text>
<text class="d" transform="translate(688.05 367.85) scale(1.0 1)" fill="#da6276" stroke="#da6276">S</text>
<text class="d" transform="translate(688.05 382.80) scale(1.0 1)" fill="#222" stroke="#222">M</text>
<text class="d" transform="translate(688.05 397.75) scale(1.0 1)" fill="#222" stroke="#222">T</text>
<text class="d" transform="translate(688.05 412.70) scale(1.0 1)" fill="#222" stroke="#222">W</text>
<text class="d" transform="translate(688.05 427.65) scale(1.0 1)" fill="#222" stroke="#222">T</text>
<text class="d" transform="translate(688.05 442.60) scale(1.0 1)" fill="#222" stroke="#222">F</text>
<text class="d" transform="translate(688.05 457.55) scale(1.0 1)" fill="#222" stroke="#222">S</text>
<text class="d" transform="translate(688.05 472.50) scale(1.0 1)" fill="#da6276" stroke="#da6276">S</text>
<text class="d" transform="translate(688.05 487.45) scale(1.0 1)" fill="#222" stroke="#222">M</text>
<text class="d" transform="translate(688.05 502.40) scale(1.0 1)" fill="#222" stroke="#222">T</text>
<text class="d" transform="translate(688.05 517.35) scale(1.0 1)" fill="#222" stroke="#222">W</text>
<text class="d" transform="translate(688.05 532.30) scale(1.0 1)" fill="#222" stroke="#222">T</text>
<text class="n" transform="translate(15.20 84.40) scale(1.0 1)">1</text>
<text class="n" transform="translate(748.20 84.40) scale(1.0 1)">1</text>
<text class="n" transform="translate(15.20 99.35) scale(1.0 1)">2</text>
<text class="n" transform="translate(748.20 99.35) scale(1.0 1)">2</text>
<text class="n" transform="translate(15.20 114.30) scale(1.0 1)">3</text>
<text class="n" transform="translate(748.20 114.30) scale(1.0 1)">3</text>
<text class="n" transform="translate(15.20 129.25) scale(1.0 1)">4</text>
<text class="n" transform="translate(748.20 129.25) scale(1.0 1)">4</text>
<text class="n" transform="translate(15.20 144.20) scale(1.0 1)">5</text>
<text class="n" transform="translate(748.20 144.20) scale(1.0 1)">5</text>
<text class="n" transform="translate(15.20 159.15) scale(1.0 1)">6</text>
<text class="n" transform="translate(748.20 159.15) scale(1.0 1)">6</text>
<text class="n" transform="translate(15.20 174.10) scale(1.0 1)">7</text>
<text class="n" transform="translate(748.20 174.10) scale(1.0 1)">7</text>
<text class="n" transform="translate(15.20 189.05) scale(1.0 1)">8</text>
<text class="n" transform="translate(748.20 189.05) scale(1.0 1)">8</text>
<text class="n" transform="translate(15.20 204.00) scale(1.0 1)">9</text>
<text class="n" transform="translate(748.20 204.00) scale(1.0 1)">9</text>
<text class="n" transform="translate(15.20 218.95) scale(1.0 1)">10</text>
<text class="n" transform="translate(748.20 218.95) scale(1.0 1)">10</text>
<text class="n" transform="translate(15.20 233.90) scale(1.0 1)">11</text>
<text class="n" transform="translate(748.20 233.90) scale(1.0 1)">11</text>
<text class="n" transform="translate(15.20 248.85) scale(1.0 1)">12</text>
<text class="n" transform="translate(748.20 248.85) scale(1.0 1)">12</text>
<text class="n" transform="translate(15.20 263.80) scale(1.0 1)">13</text>
<text class="n" transform="translate(748.20 263.80) scale(1.0 1)">13</text>
<text class="n" transform="translate(15.20 278.75) scale(1.0 1)">14</text>
<text class="n" transform="translate(748.20 278.75) scale(1.0 1)">14</text>
<text class="n" transform="translate(15.20 293.70) scale(1.0 1)">15</text>
<text class="n" transform="translate(748.20 293.70) scale(1.0 1)">15</text>
<text class="n" transform="translate(15.20 308.65) scale(1.0 1)">16</text>
<text class="n" transform="translate(748.20 308.65) scale(1.0 1)">16</text>
<text class="n" transform="translate(15.20 323.60) scale(1.0 1)">17</text>
<text class="n" transform="translate(748.20 323.60) scale(1.0 1)">17</text>
<text class="n" transform="translate(15.20 338.55) scale(1.0 1)">18</text>
<text class="n" transform="translate(748.20 338.55) scale(1.0 1)">18</text>
<text class="n" transform="translate(15.20 353.50) scale(1.0 1)">19</text>
<text class="n" transform="translate(748.20 353.50) scale(1.0 1)">19</text>
<text class="n" transform="translate(15.20 368.45) scale(1.0 1)">20</text>
<text class="n" transform="translate(748.20 368.45) scale(1.0 1)">20</text>
<text class="n" transform="translate(15.20 383.40) scale(1.0 1)">21</text>
<text class="n" transform="translate(748.20 383.40) scale(1.0 1)">21</text>
<text class="n" transform="translate(15.20 398.35) scale(1.0 1)">22</text>
<text class="n" transform="translate(748.20 398.35) scale(1.0 1)">22</text>
<text class="n" transform="translate(15.20 413.30) scale(1.0 1)">23</text>
<text class="n" transform="translate(748.20 413.30) scale(1.0 1)">23</text>
<text class="n" transform="translate(15.20 428.25) scale(1.0 1)">24</text>
<text class="n" transform="translate(748.20 428.25) scale(1.0 1)">24</text>
<text class="n" transform="translate(15.20 443.20) scale(1.0 1)">25</text>
<text class="n" transform="translate(748.20 443.20) scale(1.0 1)">25</text>
<text class="n" transform="translate(15.20 458.15) scale(1.0 1)">26</text>
<text class="n" transform="translate(748.20 458.15) scale(1.0 1)">26</text>
<text class="n" transform="translate(15.20 473.10) scale(1.0 1)">27</text>
<text class="n" transform="translate(748.20 473.10) scale(1.0 1)">27</text>
<text class="n" transform="translate(15.20 488.05) scale(1.0 1)">28</text>
<text class="n" transform="translate(748.20 488.05) scale(1.0 1)">28</text>
<text class="n" transform="translate(15.20 503.00) scale(1.0 1)">29</text>
<text class="n" transform="translate(748.20 503.00) scale(1.0 1)">29</text>
<text class="n" transform="translate(15.20 517.95) scale(1.0 1)">30</text>
<text class="n" transform="translate(748.20 517.95) scale(1.0 1)">30</text>
<text class="n" transform="translate(15.20 532.90) scale(1.0 1)">31</text>
<text class="n" transform="translate(748.20 532.90) scale(1.0 1)">31</text>
<text class="m" transform="translate(52.83 30.25) scale(1.0 1)">January</text>
<text class="m" transform="translate(112.67 30.25) scale(1.0 1)">February</text>
<text class="m" transform="translate(172.53 30.25) scale(1.0 1)">March</text>
<text class="m" transform="translate(232.38 30.25) scale(1.0 1)">April</text>
<text class="m" transform="translate(292.23 30.25) scale(1.0 1)">May</text>
<text class="m" transform="translate(352.07 30.25) scale(1.0 1)">June</text>
<text class="m" transform="translate(411.93 30.25) scale(1.0 1)">July</text>
<text class="m" transform="translate(471.77 30.25) scale(1.0 1)">August</text>
<text class="m" transform="translate(531.62 30.25) scale(1.0 1)">September</text>
<text class="m" transform="translate(591.47 30.25) scale(1.0 1)">October</text>
<text class="m" transform="translate(651.32 30.25) scale(1.0 1)">November</text>
<text class="m" transform="translate(711.17 30.25) scale(1.0 1)">December</text>
<text class="t" x="9.6" y="13.6" textLength="76.0" lengthAdjust="spacingAndGlyphs">Year Plan 2026</text>
<text class="f" x="8.0" y="544.9" textLength="228.0" lengthAdjust="spacingAndGlyphs">この商品に掲載している情報は、2025年2月現在のものです。法改正により、祝日・休日が変更になる場合があります。</text>
</svg></div>
</body></html>
